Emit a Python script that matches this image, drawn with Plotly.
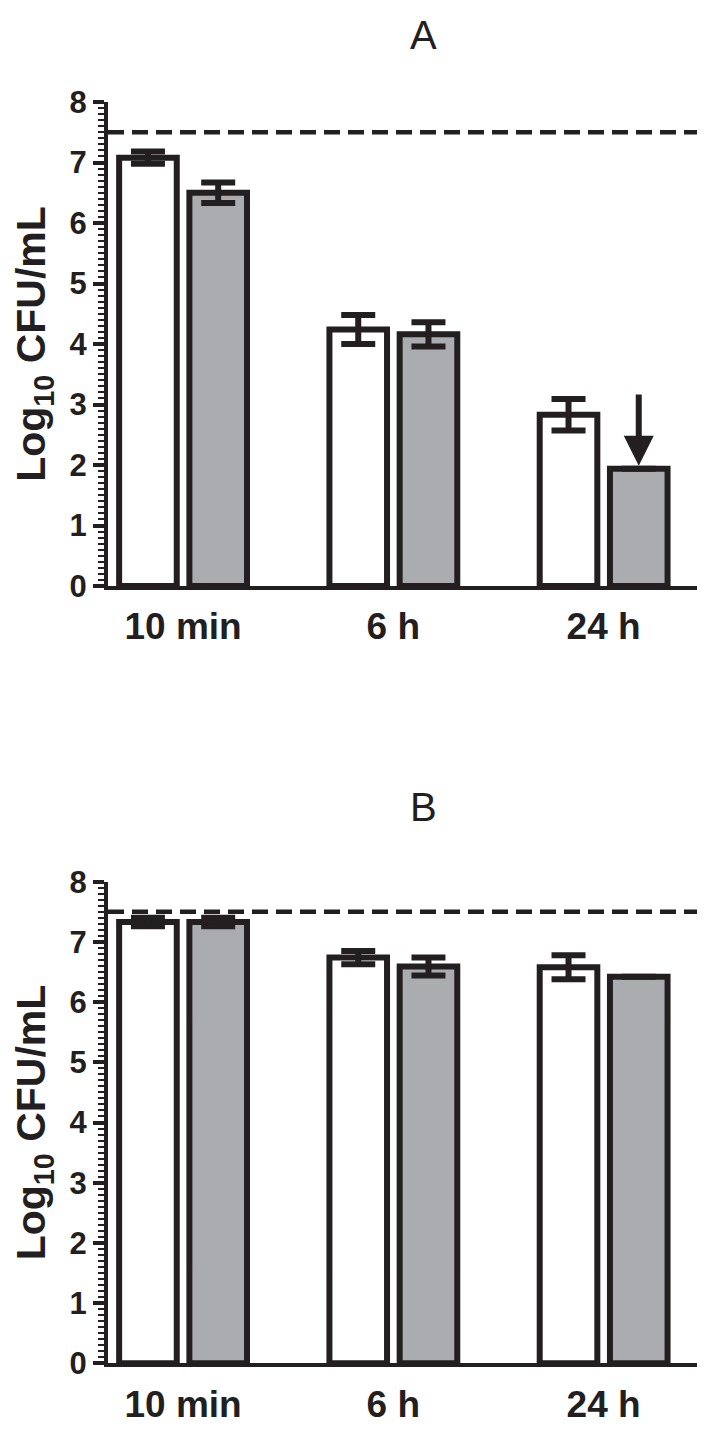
import plotly.graph_objects as go

# ---------------- data ----------------
categories = ["10 min", "6 h", "24 h"]

a_white = [7.08, 4.24, 2.83]
a_white_err = [0.10, 0.24, 0.26]
a_gray = [6.50, 4.16, 1.94]
a_gray_err = [0.17, 0.20, None]

b_white = [7.33, 6.74, 6.58]
b_white_err = [0.07, 0.11, 0.20]
b_gray = [7.33, 6.59, 6.42]
b_gray_err = [0.07, 0.15, None]

threshold = 7.5
y_ticks = [0, 1, 2, 3, 4, 5, 6, 7, 8]

# ---------------- styles ----------------
DARK = "#231f20"
GRAY = "#abacb0"
FONT = "Liberation Sans"
BAR_W = 0.274
HALF_SEP = 0.167
X_RANGE = [-0.357, 2.444]

W, H = 717, 1433
OFF = 8  # page body margin


def fx(px):
    return (px - OFF) / W


def fy(py):
    return 1 - (py - OFF) / H


fig = go.Figure()


def add_panel(white, white_err, gray, gray_err, xa, ya):
    for vals, errs, fill, off in ((white, white_err, "white", -HALF_SEP),
                                  (gray, gray_err, GRAY, HALF_SEP)):
        fig.add_trace(go.Bar(
            x=categories, y=vals,
            width=BAR_W, offset=off - BAR_W / 2,
            marker=dict(color=fill, line=dict(color=DARK, width=6)),
            error_y=dict(type="data", array=errs, visible=True,
                         color=DARK, thickness=6, width=17),
            xaxis=xa, yaxis=ya, showlegend=False,
        ))


add_panel(a_white, a_white_err, a_gray, a_gray_err, "x", "y")
add_panel(b_white, b_white_err, b_gray, b_gray_err, "x2", "y2")

x_dom = [fx(108), fx(697)]
ya_dom = [fy(586), fy(102)]
yb_dom = [fy(1363.3), fy(881.7)]

xcommon = dict(
    range=X_RANGE, showline=True, linewidth=4, linecolor=DARK,
    ticks="", showgrid=False, zeroline=False, domain=x_dom,
    tickfont=dict(family=FONT, size=37, color=DARK, weight="bold"),
    ticklabelstandoff=5, fixedrange=True, automargin=False,
)
ycommon = dict(
    range=[0, 8], tickvals=y_ticks, ticks="outside", ticklen=11, tickwidth=4,
    tickcolor=DARK, showline=True, linewidth=4, linecolor=DARK,
    showgrid=False, zeroline=False, automargin=False,
    minor=dict(dtick=0.1, ticks="outside", ticklen=6, tickwidth=2,
               tickcolor=DARK, showgrid=False),
    tickfont=dict(family=FONT, size=31, color=DARK, weight="bold"),
    title=dict(text="Log<sub>10</sub> CFU/mL", standoff=18,
               font=dict(family=FONT, size=41, color=DARK, weight="bold")),
)

fig.update_layout(
    template="none",
    width=W, height=H,
    margin=dict(l=0, r=0, t=0, b=0),
    paper_bgcolor="white", plot_bgcolor="white",
    barmode="overlay",
    xaxis=dict(anchor="y", **xcommon),
    yaxis=dict(anchor="x", domain=ya_dom, **ycommon),
    xaxis2=dict(anchor="y2", **xcommon),
    yaxis2=dict(anchor="x2", domain=yb_dom, **ycommon),
)

# dashed threshold lines
for xr, yr in (("x", "y"), ("x2", "y2")):
    fig.add_shape(type="line", xref=f"{xr} domain", yref=yr,
                  x0=0, x1=1, y0=threshold, y1=threshold,
                  line=dict(color=DARK, width=4.5, dash="16px,8px"))

# panel letters
for letter, ypos in (("A", 35), ("B", 807)):
    fig.add_annotation(text=letter, xref="paper", yref="paper",
                       x=fx(424), y=fy(ypos), showarrow=False,
                       xanchor="center", yanchor="middle", borderpad=0,
                       font=dict(family=FONT, size=40, color=DARK))

# arrow on the 24 h grey bar of panel A
idx = categories.index("24 h")
fig.add_annotation(x=idx + HALF_SEP, y=a_gray[idx], xref="x", yref="y",
                   ax=idx + HALF_SEP, ay=a_gray[idx] + 1.25,
                   axref="x", ayref="y", text="", showarrow=True,
                   arrowhead=2, arrowwidth=6, arrowsize=1, arrowcolor=DARK,
                   standoff=3)

fig.write_html("out.html")
